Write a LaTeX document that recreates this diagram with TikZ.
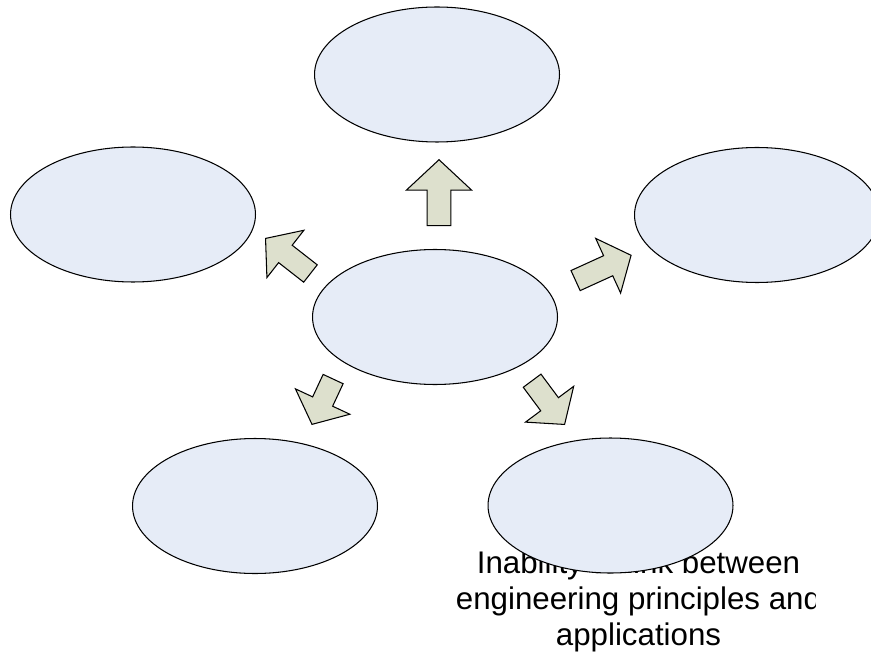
\documentclass[tikz,border=0pt]{standalone}
\usepackage{fontspec}
\setmainfont{Liberation Sans}
\usetikzlibrary{shapes.geometric, shapes.arrows, backgrounds}
\definecolor{bubblefill}{RGB}{230,236,247}
\definecolor{arrowfill}{RGB}{221,224,205}
\tikzset{%
  bubble/.style   = {draw, ellipse, line width=0.6pt, fill=bubblefill,
    inner sep=0pt, minimum width=4.9cm, minimum height=2.7cm},
  fatarrow/.style = {draw, single arrow, line width=0.6pt, fill=arrowfill,
    inner xsep=0pt, inner ysep=0.21cm, minimum width=0pt,
    single arrow head extend=0.38cm, single arrow tip angle=100, anchor=tip}
}

\begin{document}
\begin{tikzpicture}[x=0.02cm, y=-0.02cm]
\useasboundingbox (0,0) rectangle (871,658);

  \node [bubble] (n)  at (437,74.5) {};
  \node [bubble] (nw) at (133,214.5) {};
  \node [bubble] (ne) at (757,215) {};
  \node [bubble] (c)  at (435,317) {};
  \node [bubble] (sw) at (255,506) {};
  \node [bubble] (se) at (610.5,505.5) {};

  \node [fatarrow, rotate=90, minimum height=1.32cm, inner ysep=0.226cm,
    single arrow head extend=0.414cm, single arrow tip angle=94] (to_n) at (439,159) {};
  \node [fatarrow, rotate=142, minimum height=1.14cm] (to_nw) at (265,238) {};
  \node [fatarrow, rotate=24.5, minimum height=1.22cm] (to_ne) at (631.7,255) {};
  \node [fatarrow, rotate=245, minimum height=1.0cm] (to_sw) at (311.7,425) {};
  \node [fatarrow, rotate=-53.4, minimum height=1.09cm] (to_se) at (565,425) {};

  \begin{pgfonlayer}{background}
  \begin{scope}
  \clip (0,0) rectangle (815,658);
  \node [align=center, inner sep=0pt, anchor=north,
    font=\fontsize{17.8}{20.5}\selectfont] (inability) at (638.5,550)
    {Inability to link between\\ engineering principles and\\ applications};
  \end{scope}
  \end{pgfonlayer}

\end{tikzpicture}
\end{document}
